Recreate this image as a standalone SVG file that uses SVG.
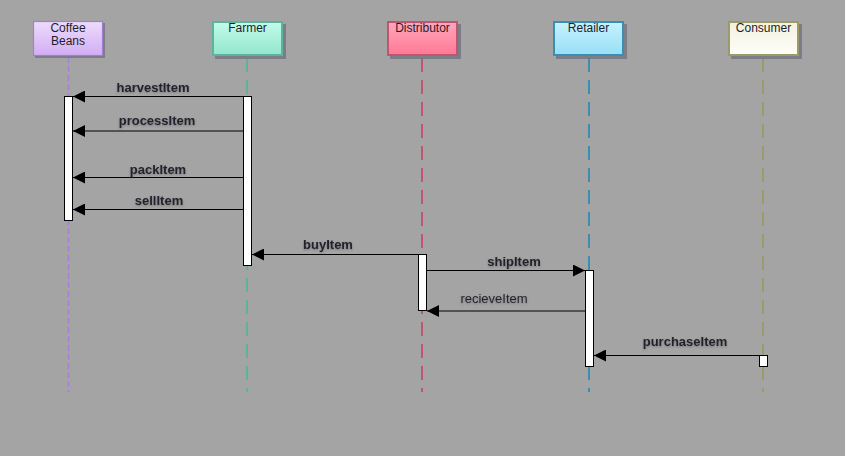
<svg xmlns="http://www.w3.org/2000/svg" width="845" height="456" viewBox="0 0 845 456">
<style>
.hdr{font-family:"Liberation Sans",Arial,sans-serif;font-size:12px;fill:#1e1e28;text-anchor:middle}
.msg{font-family:"Liberation Sans",Arial,sans-serif;font-size:13px;font-weight:bold;fill:#22222e;text-anchor:middle;filter:url(#glow)}
.msgn{font-family:"Liberation Sans",Arial,sans-serif;font-size:13px;fill:#22222e;text-anchor:middle;filter:url(#glow)}
.shadow{fill:#70737f;opacity:0.8}
.bar{fill:#ffffff;stroke:#000;stroke-width:1}
.line{stroke:#000;stroke-width:1.2;fill:none}
.life{fill:none;stroke-width:2;stroke-dasharray:14 8}
</style>
<defs>
<linearGradient id="gPurple" x1="0" y1="0" x2="0" y2="1"><stop offset="0" stop-color="#ecdcfc"/><stop offset="1" stop-color="#d2adf4"/></linearGradient>
<linearGradient id="gTeal" x1="0" y1="0" x2="0" y2="1"><stop offset="0" stop-color="#c3fbea"/><stop offset="1" stop-color="#93e6cd"/></linearGradient>
<linearGradient id="gRed" x1="0" y1="0" x2="0" y2="1"><stop offset="0" stop-color="#ffa8bc"/><stop offset="1" stop-color="#ff7894"/></linearGradient>
<linearGradient id="gBlue" x1="0" y1="0" x2="0" y2="1"><stop offset="0" stop-color="#c6f2fe"/><stop offset="1" stop-color="#97dff6"/></linearGradient>
<linearGradient id="gCream" x1="0" y1="0" x2="0" y2="1"><stop offset="0" stop-color="#f2f1df"/><stop offset="1" stop-color="#fefefa"/></linearGradient>
<filter id="glow" x="-20%" y="-40%" width="140%" height="180%"><feDropShadow dx="0" dy="1" stdDeviation="1" flood-color="#555" flood-opacity="0.6"/></filter>
<marker id="ah" viewBox="0 0 12 12" refX="12" refY="6" markerWidth="12" markerHeight="12" markerUnits="userSpaceOnUse" orient="auto"><path d="M0,0 L12,6 L0,12 Z" fill="#000"/></marker>
</defs>
<rect width="845" height="456" fill="#a4a4a4"/>

<g id="lifelines">
<line x1="68.5" y1="57" x2="68.5" y2="392" stroke="#a77fd6" stroke-width="1.5" stroke-dasharray="6 3" fill="none"/>
<line x1="247" y1="58" x2="247" y2="392" class="life" stroke="#5db49c"/>
<line x1="422" y1="58" x2="422" y2="392" class="life" stroke="#c05572"/>
<line x1="589" y1="58" x2="589" y2="392" class="life" stroke="#3b8db2"/>
<line x1="763" y1="58" x2="763" y2="392" class="life" stroke="#9c9a68"/>
</g>

<g id="node-coffee">
<rect x="35" y="23" width="70" height="35" class="shadow" opacity="0.4"/>
<rect x="33.5" y="21.5" width="69" height="34" fill="url(#gPurple)" stroke="#a47fd0" stroke-width="1.2"/>
<text class="hdr" x="68" y="32">Coffee</text>
<text class="hdr" x="68" y="45">Beans</text>
</g>
<g id="node-farmer">
<rect x="215" y="24" width="71" height="35" class="shadow"/>
<rect x="213" y="22" width="69" height="33" fill="url(#gTeal)" stroke="#5fb39c" stroke-width="2"/>
<text class="hdr" x="247.5" y="32">Farmer</text>
</g>
<g id="node-distributor">
<rect x="390" y="24" width="71" height="35" class="shadow"/>
<rect x="388" y="22" width="69" height="33" fill="url(#gRed)" stroke="#c05570" stroke-width="2"/>
<text class="hdr" x="422.5" y="32">Distributor</text>
</g>
<g id="node-retailer">
<rect x="556" y="24" width="71" height="35" class="shadow"/>
<rect x="554" y="22" width="69" height="33" fill="url(#gBlue)" stroke="#3a8eb1" stroke-width="2"/>
<text class="hdr" x="588.5" y="32">Retailer</text>
</g>
<g id="node-consumer">
<rect x="731" y="24" width="71" height="35" class="shadow"/>
<rect x="729" y="22" width="69" height="33" fill="url(#gCream)" stroke="#9c9a68" stroke-width="2"/>
<text class="hdr" x="763.5" y="32">Consumer</text>
</g>

<g id="activations">
<rect x="64.5" y="96.5" width="8" height="124" class="bar"/>
<rect x="243.5" y="96.5" width="8" height="169" class="bar"/>
<rect x="418.5" y="254.5" width="8" height="56" class="bar"/>
<rect x="585.5" y="270.5" width="8" height="96" class="bar"/>
<rect x="759.5" y="355.5" width="8" height="11" class="bar"/>
</g>

<g id="connectors">
<line x1="243.5" y1="96.5" x2="73" y2="96.5" class="line" marker-end="url(#ah)"/>
<line x1="243.5" y1="131" x2="73" y2="131" class="line" marker-end="url(#ah)"/>
<line x1="243.5" y1="177.5" x2="73" y2="177.5" class="line" marker-end="url(#ah)"/>
<line x1="243.5" y1="209.5" x2="73" y2="209.5" class="line" marker-end="url(#ah)"/>
<line x1="418.5" y1="254.5" x2="252" y2="254.5" class="line" marker-end="url(#ah)"/>
<line x1="426.5" y1="270.5" x2="585" y2="270.5" class="line" marker-end="url(#ah)"/>
<line x1="585.5" y1="311" x2="427" y2="311" class="line" marker-end="url(#ah)"/>
<line x1="759.5" y1="355.5" x2="594" y2="355.5" class="line" marker-end="url(#ah)"/>
</g>

<g id="labels">
<text class="msg" x="153" y="92">harvestItem</text>
<text class="msg" x="157" y="125">processItem</text>
<text class="msg" x="158" y="174">packItem</text>
<text class="msg" x="159" y="205">sellItem</text>
<text class="msg" x="328" y="249">buyItem</text>
<text class="msg" x="514" y="266">shipItem</text>
<text class="msgn" x="494" y="303">recieveItem</text>
<text class="msg" x="685" y="346">purchaseItem</text>
</g>
</svg>
